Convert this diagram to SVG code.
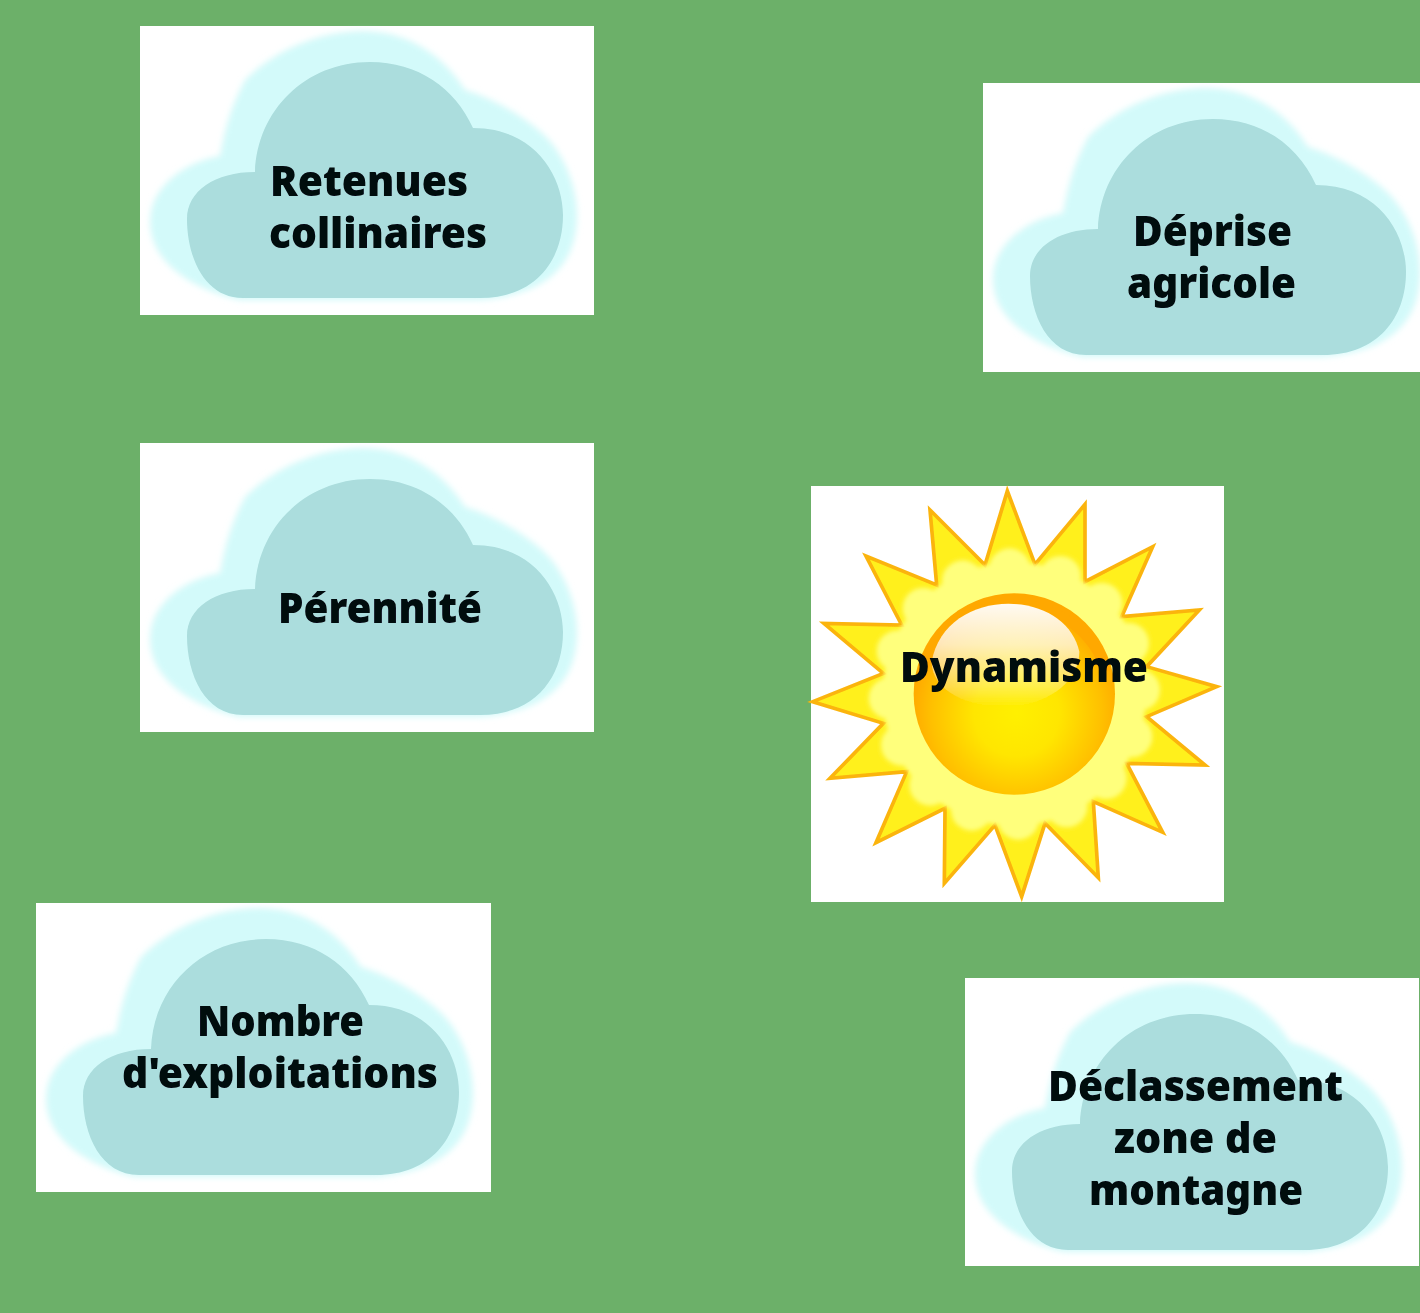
<svg xmlns="http://www.w3.org/2000/svg" width="1420" height="1313" viewBox="0 0 1420 1313">
<style>
.card{fill:#fff}
.lbl{font-family:"Noto Sans","DejaVu Sans",sans-serif;font-weight:900;font-size:43px;fill:#05070a}
.sc{fill:#ffff7c}
</style>
<defs>
<filter id="b1" x="-5%" y="-5%" width="110%" height="110%"><feGaussianBlur stdDeviation="3"/></filter>
<filter id="b2" x="-5%" y="-5%" width="110%" height="110%"><feGaussianBlur stdDeviation="0.7"/></filter>
<filter id="b3" x="-10%" y="-10%" width="120%" height="120%"><feGaussianBlur stdDeviation="7"/></filter>
<filter id="t" x="-5%" y="-10%" width="110%" height="120%"><feGaussianBlur stdDeviation="0.45"/></filter>
<clipPath id="rayclip"><polygon points="622,48 705,268 855,88 855,320 1058,215 965,425 1198,405 1040,575 1250,635 1040,725 1215,870 980,865 1088,1072 880,980 895,1208 735,1045 665,1265 585,1050 433,1225 435,1000 228,1103 320,890 90,910 250,745 38,680 250,595 72,445 305,450 198,243 410,330 390,105 555,270"/></clipPath>
<radialGradient id="ball" gradientUnits="userSpaceOnUse" cx="650" cy="715" r="320">
<stop offset="0" stop-color="#fff000"/><stop offset="0.4" stop-color="#ffe600"/><stop offset="0.8" stop-color="#ffc000"/><stop offset="1" stop-color="#ffa800"/>
</radialGradient>
<linearGradient id="gloss" x1="0" y1="0" x2="0" y2="1">
<stop offset="0" stop-color="#fff" stop-opacity="0.95"/><stop offset="0.4" stop-color="#fff" stop-opacity="0.72"/><stop offset="0.8" stop-color="#fff" stop-opacity="0.3"/><stop offset="1" stop-color="#fff" stop-opacity="0"/>
</linearGradient>
<g id="cloud">
<path filter="url(#b1)" fill="#d3fafa" d="M100,274C70,268 10,245 10,196C10,160 45,136 80,130C84,110 88,86 105,54C135,24 180,5 223,5C262,5 300,24 325,64C347,70 387,90 409,114C428,136 437,165 437,189C437,235 412,268 340,274Z"/>
<path filter="url(#b2)" fill="#abdddd" d="M103,272C65,272 47,232 47,193C47,165 75,146 115,146C117,85 165,36 230,36C278,36 315,62 333,102C395,102 423,150 423,189C423,235 395,272 340,272Z"/>
</g>
</defs>
<rect width="1420" height="1313" fill="#6cb069"/>
<g id="connectors"/>
<g id="retenues"><rect class="card" x="140" y="26" width="454" height="289"/><use href="#cloud" x="140" y="26"/>
<g filter="url(#t)"><text class="lbl" x="270" y="196" textLength="198" lengthAdjust="spacingAndGlyphs">Retenues</text><text class="lbl" x="269" y="248" textLength="218" lengthAdjust="spacingAndGlyphs">collinaires</text></g></g>
<g id="deprise"><rect class="card" x="983" y="83" width="437" height="289"/><use href="#cloud" x="983" y="83"/>
<g filter="url(#t)"><text class="lbl" x="1133" y="246" textLength="159" lengthAdjust="spacingAndGlyphs">Déprise</text><text class="lbl" x="1127" y="298" textLength="169" lengthAdjust="spacingAndGlyphs">agricole</text></g></g>
<g id="perennite"><rect class="card" x="140" y="443" width="454" height="289"/><use href="#cloud" x="140" y="443"/>
<g filter="url(#t)"><text class="lbl" x="278" y="623" textLength="204" lengthAdjust="spacingAndGlyphs">Pérennité</text></g></g>
<g id="dynamisme"><rect class="card" x="811" y="486" width="413" height="416"/>
<g transform="translate(800 475) scale(.33333)" filter="url(#b2)">
<polygon fill="#fff01e" stroke="#fbb40c" stroke-width="11" points="622,48 705,268 855,88 855,320 1058,215 965,425 1198,405 1040,575 1250,635 1040,725 1215,870 980,865 1088,1072 880,980 895,1208 735,1045 665,1265 585,1050 433,1225 435,1000 228,1103 320,890 90,910 250,745 38,680 250,595 72,445 305,450 198,243 410,330 390,105 555,270"/>
<g clip-path="url(#rayclip)"><g class="sc" filter="url(#b3)"><circle cx="643" cy="657" r="395"/><circle cx="629" cy="282" r="62"/><circle cx="781" cy="305" r="62"/><circle cx="905" cy="385" r="62"/><circle cx="985" cy="505" r="62"/><circle cx="1018" cy="645" r="62"/><circle cx="995" cy="785" r="62"/><circle cx="918" cy="910" r="62"/><circle cx="800" cy="995" r="62"/><circle cx="655" cy="1032" r="62"/><circle cx="515" cy="1005" r="62"/><circle cx="390" cy="930" r="62"/><circle cx="305" cy="810" r="62"/><circle cx="268" cy="670" r="62"/><circle cx="292" cy="528" r="62"/><circle cx="370" cy="400" r="62"/><circle cx="488" cy="318" r="62"/></g></g>
<circle cx="643" cy="657" r="302" fill="url(#ball)"/>
<path fill="none" stroke="#ffa800" stroke-width="28" d="M368,590A288,288 0 0 1 918,590"/>
<path fill="url(#gloss)" d="M395,560C415,445 520,386 625,386C735,386 820,445 838,530C838,620 740,695 610,695C510,695 395,650 395,560Z"/>
</g>
<g filter="url(#t)"><text class="lbl" x="900" y="682" textLength="248" lengthAdjust="spacingAndGlyphs">Dynamisme</text></g></g>
<g id="nombre"><rect class="card" x="36" y="903" width="455" height="289"/><use href="#cloud" x="36" y="903"/>
<g filter="url(#t)"><text class="lbl" x="197" y="1036" textLength="167" lengthAdjust="spacingAndGlyphs">Nombre</text><text class="lbl" x="122" y="1088" textLength="316" lengthAdjust="spacingAndGlyphs">d'exploitations</text></g></g>
<g id="declassement"><rect class="card" x="965" y="978" width="454" height="288"/><use href="#cloud" x="965" y="978"/>
<g filter="url(#t)"><text class="lbl" x="1048" y="1101" textLength="295" lengthAdjust="spacingAndGlyphs">Déclassement</text><text class="lbl" x="1114" y="1153" textLength="163" lengthAdjust="spacingAndGlyphs">zone de</text><text class="lbl" x="1089" y="1205" textLength="214" lengthAdjust="spacingAndGlyphs">montagne</text></g></g>
</svg>
